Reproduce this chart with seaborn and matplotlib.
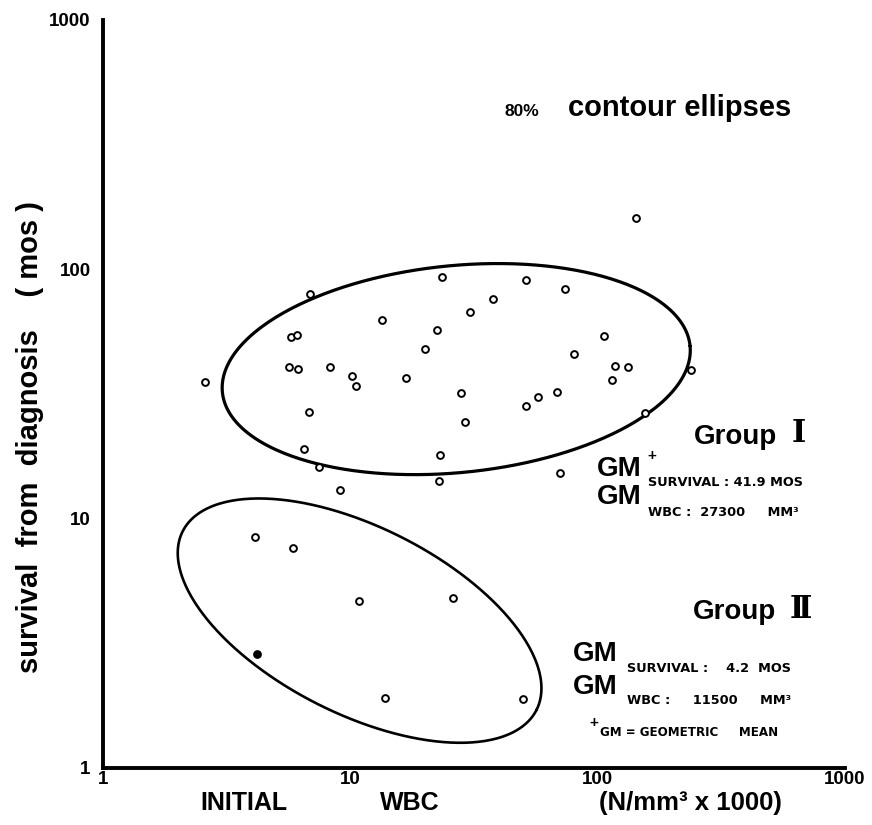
import numpy as np
import pandas as pd
import matplotlib
matplotlib.use("Agg")
import matplotlib.pyplot as plt
import seaborn as sns

# ---- data ----
# Group I (open circles)
wbc_g1 = [2.58, 6.87, 5.75, 6.09, 5.65, 6.14, 8.27, 10.2, 10.5, 6.81, 6.50, 7.47, 9.08,
          13.4, 16.8, 20.0, 22.4, 23.5, 30.5, 37.8, 28.0, 29.1, 23.0, 22.8, 51.3, 51.3,
          73.8, 106, 80.2, 117, 133, 114, 57.4, 68.5, 70.4, 238, 155, 143]
surv_g1 = [35.3, 79.6, 53.5, 54.5, 40.6, 39.8, 40.6, 37.4, 34.0, 26.8, 19.0, 16.1, 13.0,
           62.6, 36.7, 47.9, 57.1, 93.2, 67.4, 76.0, 31.9, 24.4, 18.0, 14.2, 90.6, 28.3,
           83.4, 54.0, 45.8, 41.0, 40.6, 36.0, 30.8, 32.2, 15.2, 39.5, 26.5, 161]
# Group II
wbc_g2 = [4.12, 5.87, 10.8, 26.0, 13.8, 49.9]
surv_g2 = [8.44, 7.63, 4.68, 4.81, 1.91, 1.89]
# Group II point drawn filled
wbc_g2_filled = [4.20]
surv_g2_filled = [2.87]

# 80% contour ellipses (centre in data units, semi-axes in decades, angle in degrees)
ell1_center = (26.8, 39.8)
ell1_axes = (0.95, 0.415)
ell1_angle = 5.6
ell2_center = (10.9, 3.90)
ell2_axes = (0.80, 0.375)
ell2_angle = -26.5

tick_values = [1, 10, 100, 1000]
tick_labels = ["1", "10", "100", "1000"]

# ---- figure ----
sns.set_theme(style="white")
plt.rcParams['font.family'] = ['Liberation Sans', 'DejaVu Sans']
plt.rcParams['text.color'] = 'black'
plt.rcParams['axes.labelcolor'] = 'black'
plt.rcParams['xtick.color'] = 'black'
plt.rcParams['ytick.color'] = 'black'

W, H = 872, 825
fig = plt.figure(figsize=(W / 100, H / 100), dpi=100)
L, R, T, B = 103, 845, 20, 768
ax = fig.add_axes([L / W, 1 - B / H, (R - L) / W, (B - T) / H])

df = pd.DataFrame({
    "wbc": wbc_g1 + wbc_g2,
    "surv": surv_g1 + surv_g2,
    "group": ["I"] * len(wbc_g1) + ["II"] * len(wbc_g2),
})
sns.scatterplot(data=df, x="wbc", y="surv", ax=ax, color="white",
                edgecolor="black", linewidth=1.4, s=24, zorder=3, legend=False)
sns.scatterplot(x=wbc_g2_filled, y=surv_g2_filled, ax=ax, color="black",
                edgecolor="black", linewidth=1.4, s=24, zorder=3, legend=False)


def ellipse_pts(center, axes, angle):
    t = np.linspace(0, 2 * np.pi, 400)
    cx, cy = np.log10(center[0]), np.log10(center[1])
    a, b = axes
    phi = np.deg2rad(angle)
    u, v = a * np.cos(t), b * np.sin(t)
    lx = cx + u * np.cos(phi) - v * np.sin(phi)
    ly = cy + u * np.sin(phi) + v * np.cos(phi)
    return 10 ** lx, 10 ** ly


x1, y1 = ellipse_pts(ell1_center, ell1_axes, ell1_angle)
ax.plot(x1, y1, color="black", lw=2.3, zorder=2)
x2, y2 = ellipse_pts(ell2_center, ell2_axes, ell2_angle)
ax.plot(x2, y2, color="black", lw=1.9, zorder=2)

ax.set_xscale("log")
ax.set_yscale("log")
ax.set_xlim(1, 1000)
ax.set_ylim(1, 1000)
ax.set_xticks(tick_values)
ax.set_xticklabels(tick_labels)
ax.set_yticks(tick_values)
ax.set_yticklabels(tick_labels)
ax.minorticks_off()
ax.tick_params(axis="both", length=0, labelsize=13.5)
ax.tick_params(axis="x", pad=2)
ax.tick_params(axis="y", pad=9)
for lab in ax.get_xticklabels() + ax.get_yticklabels():
    lab.set_fontweight("bold")

for s in ["top", "right"]:
    ax.spines[s].set_visible(False)
for s in ["left", "bottom"]:
    ax.spines[s].set_linewidth(2.8)
    ax.spines[s].set_color("black")
ax.set_facecolor("white")
ax.patch.set_alpha(0)

ax.set_xlabel("")
ax.set_ylabel("")


def fx(px):
    return px / W


def fy(py):
    return 1 - py / H


# axis titles
fig.text(fx(30), fy(437), "survival  from  diagnosis    ( mos )", fontsize=21,
         fontweight="bold", rotation=90, ha="center", va="center")
fig.text(fx(200), fy(803), "INITIAL", fontsize=18, fontweight="bold",
         ha="left", va="center")
fig.text(fx(380), fy(803), "WBC", fontsize=18, fontweight="bold",
         ha="left", va="center")
fig.text(fx(690), fy(803), "(N/mm³ x 1000)", fontsize=18.5, fontweight="bold",
         ha="center", va="center")

# annotations
fig.text(fx(504), fy(111), "80%", fontsize=12.5, fontweight="bold", ha="left", va="center")
fig.text(fx(568), fy(108), "contour ellipses", fontsize=21, fontweight="bold",
         ha="left", va="center")

# Group I
fig.text(fx(694), fy(437), "Group", fontsize=20, fontweight="bold", ha="left", va="center")
fig.text(fx(792), fy(434), "Ⅰ", fontsize=22, fontweight="bold", ha="left", va="center",
         family=["DejaVu Serif", "DejaVu Sans"])
fig.text(fx(597), fy(469), "GM", fontsize=20, fontweight="bold", ha="left", va="center")
fig.text(fx(647), fy(456), "+", fontsize=11, fontweight="bold", ha="left", va="center")
fig.text(fx(648), fy(482), "SURVIVAL : 41.9 MOS", fontsize=9.3, fontweight="bold",
         ha="left", va="center", family=["DejaVu Sans"])
fig.text(fx(597), fy(497), "GM", fontsize=20, fontweight="bold", ha="left", va="center")
fig.text(fx(648), fy(512), "WBC :  27300     MM³", fontsize=9.3, fontweight="bold",
         ha="left", va="center", family=["DejaVu Sans"])

# Group II
fig.text(fx(693), fy(612), "Group", fontsize=20, fontweight="bold", ha="left", va="center")
fig.text(fx(790), fy(609), "Ⅱ", fontsize=22, fontweight="bold", ha="left", va="center",
         family=["DejaVu Serif", "DejaVu Sans"])
fig.text(fx(573), fy(654), "GM", fontsize=20, fontweight="bold", ha="left", va="center")
fig.text(fx(627), fy(669), "SURVIVAL :    4.2  MOS", fontsize=9.3, fontweight="bold",
         ha="left", va="center", family=["DejaVu Sans"])
fig.text(fx(573), fy(687), "GM", fontsize=20, fontweight="bold", ha="left", va="center")
fig.text(fx(627), fy(701), "WBC :     11500     MM³", fontsize=9.3, fontweight="bold",
         ha="left", va="center", family=["DejaVu Sans"])
fig.text(fx(589), fy(723), "+", fontsize=11, fontweight="bold", ha="left", va="center")
fig.text(fx(600), fy(733), "GM = GEOMETRIC     MEAN", fontsize=8.6, fontweight="bold",
         ha="left", va="center", family=["DejaVu Sans"])

fig.savefig("out.png", dpi=100, facecolor="white")
